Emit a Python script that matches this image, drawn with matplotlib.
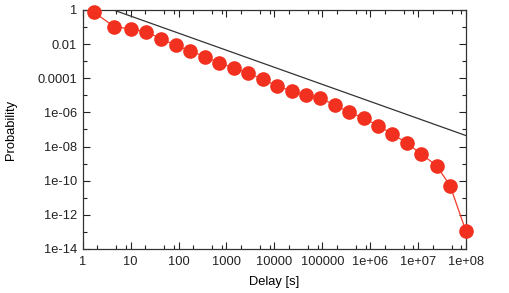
import numpy as np
import matplotlib
matplotlib.use("Agg")
import matplotlib.pyplot as plt
from matplotlib.ticker import FixedLocator, NullFormatter

plt.rcParams['font.family'] = ['Liberation Sans', 'DejaVu Sans']

# Data (log10 values)
log_delay = [0.236, 0.66, 1.008, 1.32, 1.635, 1.94, 2.246, 2.553, 2.846, 3.159,
             3.445, 3.758, 4.056, 4.363, 4.668, 4.96, 5.267, 5.56, 5.873, 6.165,
             6.463, 6.77, 7.069, 7.386, 7.668, 7.996]
log_prob = [-0.135, -0.98, -1.11, -1.27, -1.68, -2.07, -2.40, -2.74, -3.09, -3.40,
            -3.69, -4.06, -4.45, -4.75, -4.98, -5.17, -5.57, -5.99, -6.34, -6.78,
            -7.26, -7.81, -8.44, -9.12, -10.29, -12.93]
delay = [10 ** v for v in log_delay]
prob = [10 ** v for v in log_prob]

# reference power-law line  P ~ 4.4 / t
ref_x = [1.0, 1e8]
ref_y = [4.4, 4.4e-8]

x_ticks = [1, 10, 100, 1000, 1e4, 1e5, 1e6, 1e7, 1e8]
x_labels = ["1", "10", "100", "1000", "10000", "100000", "1e+06", "1e+07", "1e+08"]
y_ticks = [1, 1e-2, 1e-4, 1e-6, 1e-8, 1e-10, 1e-12, 1e-14]
y_labels = ["1", "0.01", "0.0001", "1e-06", "1e-08", "1e-10", "1e-12", "1e-14"]

fig = plt.figure(figsize=(5.09, 2.93), dpi=100)
ax = fig.add_axes([0.1625, 0.1502, 0.9155 - 0.1625, 0.9659 - 0.1502])

ax.plot(ref_x, ref_y, color="#333333", lw=0.9, zorder=2)
ax.plot(delay, prob, color="#f03a28", lw=0.9, marker="o", markersize=9.5,
        markerfacecolor="#f2301f", markeredgecolor="#f2301f", zorder=3, clip_on=False)

ax.set_xscale("log")
ax.set_yscale("log")
ax.set_xlim(1, 1e8)
ax.set_ylim(1e-14, 1)

ax.xaxis.set_major_locator(FixedLocator(x_ticks))
ax.set_xticklabels(x_labels)
xminor = [m * 10 ** k for k in range(0, 8) for m in (2, 5, 8)]
ax.xaxis.set_minor_locator(FixedLocator(xminor))
ax.xaxis.set_minor_formatter(NullFormatter())

ax.yaxis.set_major_locator(FixedLocator(y_ticks))
ax.set_yticklabels(y_labels)
yminor = [10.0 ** (-k) for k in range(1, 14, 2)]
ax.yaxis.set_minor_locator(FixedLocator(yminor))
ax.yaxis.set_minor_formatter(NullFormatter())

ax.tick_params(which="both", direction="in", top=True, right=True,
               labelsize=9.3, colors="#222222", width=0.8)
ax.tick_params(axis="y", pad=4)
ax.tick_params(axis="x", pad=5)
ax.tick_params(which="major", length=5)
ax.tick_params(which="minor", length=2.8)
for s in ax.spines.values():
    s.set_linewidth(0.9)
    s.set_color("#333333")

ax.set_xlabel("Delay [s]", fontsize=9.3, labelpad=6)
ax.set_ylabel("Probability", fontsize=9.3, labelpad=15)

fig.savefig("out.png", dpi=100)
